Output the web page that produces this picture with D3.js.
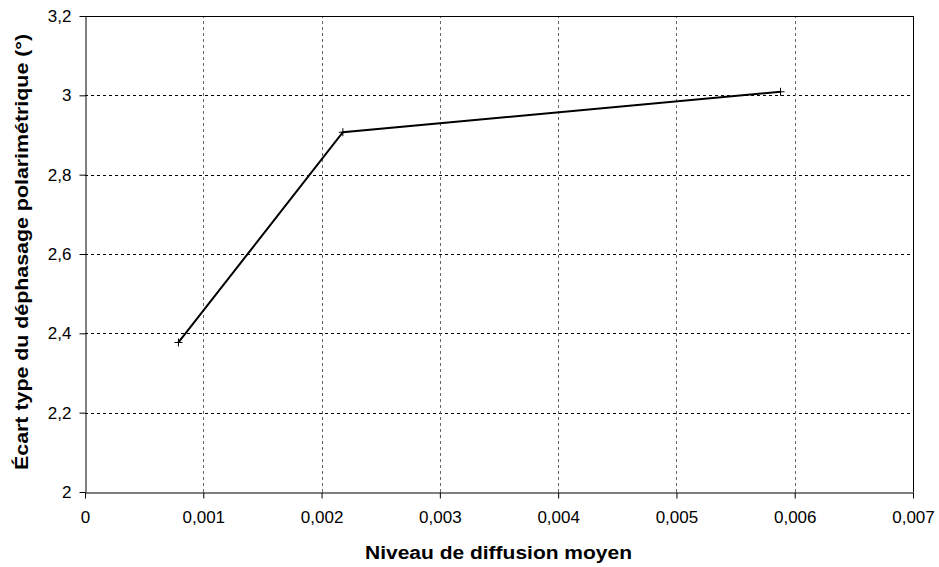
<!DOCTYPE html>
<html><head><meta charset="utf-8">
<script src="https://cdn.jsdelivr.net/npm/d3@7"></script>
<style>body{margin:0;background:#fff}svg{display:block}text{font-family:"Liberation Sans",Arial,sans-serif}</style>
</head><body>
<script>
const xValues = [0.00079, 0.00218, 0.00588];
const yValues = [2.377, 2.907, 3.009];
const xTicks = [0, 0.001, 0.002, 0.003, 0.004, 0.005, 0.006, 0.007];
const yTicks = [2, 2.2, 2.4, 2.6, 2.8, 3, 3.2];
const xTitle = "Niveau de diffusion moyen";
const yTitle = "Écart type du déphasage polarimétrique (°)";

const W = 939, H = 567;
const m = {left: 85, right: 26, top: 16, bottom: 75};
const svg = d3.select("body").append("svg").attr("width", W).attr("height", H);
const x = d3.scaleLinear().domain([0, 0.007]).range([m.left, W - m.right]);
const y = d3.scaleLinear().domain([2, 3.2]).range([H - m.bottom, m.top]);
const fmt = d => String(+d.toFixed(3)).replace(".", ",");

// gridlines
svg.append("g").selectAll("line").data(yTicks.slice(1, -1)).join("line")
  .attr("x1", x(0)).attr("x2", x(0.007))
  .attr("y1", d => Math.round(y(d)) + 0.5).attr("y2", d => Math.round(y(d)) + 0.5)
  .attr("stroke", "#000").attr("stroke-dasharray", "3,3");
svg.append("g").selectAll("line").data(xTicks.slice(1, -1)).join("line")
  .attr("y1", y(2)).attr("y2", y(3.2))
  .attr("x1", d => Math.round(x(d)) + 0.5).attr("x2", d => Math.round(x(d)) + 0.5)
  .attr("stroke", "#666").attr("stroke-dasharray", "3,3");
// top & right border
svg.append("line").attr("x1", x(0)).attr("x2", x(0.007)).attr("y1", Math.round(y(3.2)) + 0.5).attr("y2", Math.round(y(3.2)) + 0.5).attr("stroke", "#000");
svg.append("line").attr("x1", Math.round(x(0.007)) + 0.5).attr("x2", Math.round(x(0.007)) + 0.5).attr("y1", y(2)).attr("y2", y(3.2)).attr("stroke", "#000");

// axes
const xAxis = svg.append("g").attr("transform", `translate(0,${Math.round(y(2)) + 0.5})`)
  .call(d3.axisBottom(x).tickValues(xTicks).tickFormat(fmt).tickSize(6).tickSizeOuter(0).tickPadding(12));
const yAxis = svg.append("g").attr("transform", `translate(${Math.round(x(0)) + 0.5},0)`)
  .call(d3.axisLeft(y).tickValues(yTicks).tickFormat(fmt).tickSize(6).tickSizeOuter(0).tickPadding(8));
[xAxis, yAxis].forEach(a => {
  a.select(".domain").attr("stroke", "#000");
  a.selectAll(".tick line").attr("stroke", "#000");
  a.selectAll(".tick text").attr("font-size", 17).attr("fill", "#000").style("font-family", '"Liberation Sans",Arial,sans-serif');
});

// line
const pts = xValues.map((v, i) => [v, yValues[i]]);
svg.append("path").datum(pts)
  .attr("d", d3.line().x(d => x(d[0])).y(d => y(d[1])))
  .attr("fill", "none").attr("stroke", "#000").attr("stroke-width", 2);
// plus markers
svg.append("g").selectAll("path").data(pts).join("path")
  .attr("d", d => `M${x(d[0]) - 4},${y(d[1])}H${x(d[0]) + 4}M${x(d[0])},${y(d[1]) - 4}V${y(d[1]) + 4}`)
  .attr("stroke", "#000").attr("stroke-width", 1);

// titles
svg.append("text").attr("x", 498.5).attr("y", 559)
  .attr("text-anchor", "middle").attr("font-size", 18).attr("font-weight", "bold")
  .attr("textLength", 267).attr("lengthAdjust", "spacingAndGlyphs").text(xTitle);
svg.append("text").attr("transform", `translate(28,252) rotate(-90)`)
  .attr("text-anchor", "middle").attr("font-size", 18).attr("font-weight", "bold")
  .attr("textLength", 436).attr("lengthAdjust", "spacingAndGlyphs").text(yTitle);
</script>
</body></html>
